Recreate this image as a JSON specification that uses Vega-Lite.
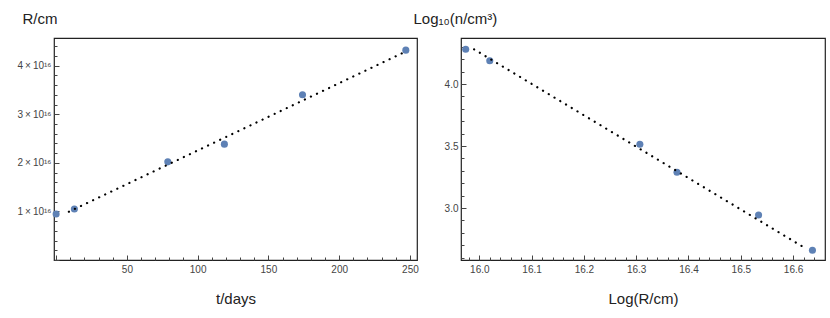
{
  "$schema": "https://vega.github.io/schema/vega-lite/v6.json",
  "padding": {"left": 16, "top": 10, "right": 5, "bottom": 5},
  "background": "white",
  "datasets": {
    "left_pts": [
      {"t": 0, "R": 0.947e16},
      {"t": 12.9, "R": 1.05e16},
      {"t": 78.9, "R": 2.02e16},
      {"t": 118.9, "R": 2.385e16},
      {"t": 174.1, "R": 3.40e16},
      {"t": 247.1, "R": 4.32e16}
    ],
    "left_fit": [
      {"t": 9.0, "R": 0.994e16},
      {"t": 246.9, "R": 4.29e16}
    ],
    "right_pts": [
      {"logR": 15.974, "logn": 4.28},
      {"logR": 16.020, "logn": 4.188},
      {"logR": 16.307, "logn": 3.514},
      {"logR": 16.378, "logn": 3.288},
      {"logR": 16.534, "logn": 2.944},
      {"logR": 16.637, "logn": 2.659}
    ],
    "right_fit": [
      {"logR": 15.99, "logn": 4.28},
      {"logR": 16.627, "logn": 2.667}
    ]
  },
  "config": {
    "view": {"stroke": "#222222", "strokeWidth": 1.2},
    "font": "Liberation Sans",
    "axis": {
      "domain": false,
      "grid": false,
      "labelFont": "Liberation Sans",
      "labelFontSize": 10,
      "labelColor": "#444444",
      "tickColor": "#444444",
      "tickWidth": 1,
      "titleFont": "Liberation Sans",
      "titleFontSize": 15,
      "titleFontWeight": "normal",
      "titleColor": "#222222",
      "labelFlush": false,
      "labelOverlap": false,
      "labelBound": false
    }
  },
  "bounds": "flush",
  "spacing": 44,
  "hconcat": [
    {
      "width": 363,
      "height": 222,
      "resolve": {"axis": {"x": "independent", "y": "independent"}},
      "layer": [
        {
          "data": {"name": "left_pts"},
          "mark": {"type": "point", "filled": true, "shape": "circle", "size": 50, "color": "#5E81B5", "opacity": 1},
          "encoding": {
            "x": {
              "field": "t", "type": "quantitative",
              "scale": {"domain": [-1.5, 255], "nice": false, "zero": false},
              "axis": {
                "orient": "bottom",
                "title": "t/days",
                "titleY": 43, "titleBaseline": "alphabetic",
                "values": [0, 50, 100, 150, 200, 250],
                "labelExpr": "datum.value > 0 ? datum.label : ''",
                "tickSize": -5,
                "labelPadding": 9,
                "labelOverlap": false
              }
            },
            "y": {
              "field": "R", "type": "quantitative",
              "scale": {"domain": [0, 4.57e16], "nice": false, "zero": false},
              "axis": {
                "orient": "left",
                "title": "R/cm",
                "titleAngle": 0, "titleX": -32, "titleY": -15,
                "titleAlign": "left", "titleBaseline": "alphabetic",
                "values": [0, 1e16, 2e16, 3e16, 4e16],
                "labelExpr": "datum.value > 0 ? format(round(datum.value/1e16), 'd') + '\u2009×\u200910¹⁶' : ''",
                "tickSize": -5,
                "labelPadding": 8,
                "labelOverlap": false
              }
            }
          }
        },
        {
          "data": {"name": "left_fit"},
          "mark": {"type": "line", "color": "black", "strokeWidth": 2.2, "strokeCap": "round", "strokeDash": [0.1, 6.6]},
          "encoding": {
            "x": {
              "field": "t", "type": "quantitative",
              "axis": {
                "orient": "bottom", "title": null, "labels": false, "tickSize": -3,
                "values": [10,20,30,40,60,70,80,90,110,120,130,140,160,170,180,190,210,220,230,240]
              }
            },
            "y": {
              "field": "R", "type": "quantitative",
              "axis": {
                "orient": "left", "title": null, "labels": false, "tickSize": -3,
                "values": [2e15, 4e15, 6e15, 8e15, 1.2e16, 1.4e16, 1.6e16, 1.8e16, 2.2e16, 2.4e16, 2.6e16, 2.8e16, 3.2e16, 3.4e16, 3.6e16, 3.8e16, 4.2e16, 4.4e16]
              }
            }
          }
        }
      ]
    },
    {
      "width": 364,
      "height": 222,
      "resolve": {"axis": {"x": "independent", "y": "independent"}},
      "layer": [
        {
          "data": {"name": "right_pts"},
          "mark": {"type": "point", "filled": true, "shape": "circle", "size": 50, "color": "#5E81B5", "opacity": 1},
          "encoding": {
            "x": {
              "field": "logR", "type": "quantitative",
              "scale": {"domain": [15.965, 16.661], "nice": false, "zero": false},
              "axis": {
                "orient": "bottom",
                "title": "Log(R/cm)",
                "titleY": 43, "titleBaseline": "alphabetic",
                "values": [16.0, 16.1, 16.2, 16.3, 16.4, 16.5, 16.6],
                "format": ".1f",
                "tickSize": -5,
                "labelPadding": 9,
                "labelOverlap": false
              }
            },
            "y": {
              "field": "logn", "type": "quantitative",
              "scale": {"domain": [2.581, 4.371], "nice": false, "zero": false},
              "axis": {
                "orient": "left",
                "title": "Log₁₀(n/cm³)",
                "titleAngle": 0, "titleX": -48, "titleY": -15,
                "titleAlign": "left", "titleBaseline": "alphabetic",
                "values": [3.0, 3.5, 4.0],
                "format": ".1f",
                "tickSize": -5,
                "labelPadding": 8,
                "labelOverlap": false
              }
            }
          }
        },
        {
          "data": {"name": "right_fit"},
          "mark": {"type": "line", "color": "black", "strokeWidth": 2.2, "strokeCap": "round", "strokeDash": [0.1, 6.6]},
          "encoding": {
            "x": {
              "field": "logR", "type": "quantitative",
              "axis": {
                "orient": "bottom", "title": null, "labels": false, "tickSize": -3,
                "values": [15.98, 16.02, 16.04, 16.06, 16.08, 16.12, 16.14, 16.16, 16.18, 16.22, 16.24, 16.26, 16.28, 16.32, 16.34, 16.36, 16.38, 16.42, 16.44, 16.46, 16.48, 16.52, 16.54, 16.56, 16.58, 16.62, 16.64]
              }
            },
            "y": {
              "field": "logn", "type": "quantitative",
              "axis": {
                "orient": "left", "title": null, "labels": false, "tickSize": -3,
                "values": [2.6, 2.7, 2.8, 2.9, 3.1, 3.2, 3.3, 3.4, 3.6, 3.7, 3.8, 3.9, 4.1, 4.2, 4.3]
              }
            }
          }
        }
      ]
    }
  ]
}
